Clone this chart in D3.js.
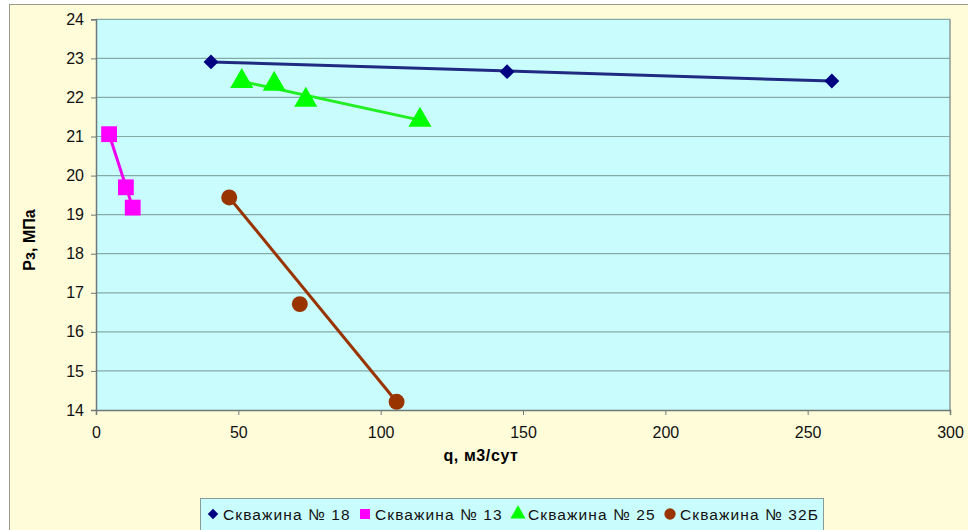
<!DOCTYPE html>
<html>
<head>
<meta charset="utf-8">
<script src="https://cdn.jsdelivr.net/npm/d3@7"></script>
<style>
  body { margin: 0; background: #fff; }
  svg text { font-family: "Liberation Sans", Arial, sans-serif; }
</style>
</head>
<body>
<script>
// well data: rate q (m3/day) and pressure Pz (MPa)
const seriesNames = ["Скважина № 18", "Скважина № 13", "Скважина № 25", "Скважина № 32Б"];
const q18 = [40.4, 144.4, 258.5];
const p18 = [22.91, 22.66, 22.42];
const q13 = [4.6, 10.5, 12.9];
const p13 = [21.06, 19.70, 19.18];
const q25 = [51.2, 62.6, 73.7, 113.8];
const p25 = [22.41, 22.34, 21.93, 21.42];
const q32 = [46.8, 71.6, 105.6];
const p32 = [19.44, 16.71, 14.21];
const xTicks = [0, 50, 100, 150, 200, 250, 300];
const yTicks = [14, 15, 16, 17, 18, 19, 20, 21, 22, 23, 24];

const colors = ["#000080", "#ff00ff", "#00ff00", "#993300"];
const lineColors = ["#1f2a80", "#ee00ee", "#22ee22", "#993300"];
const symbols = [d3.symbolSquare, d3.symbolSquare, d3.symbolTriangle, d3.symbolCircle];
const symRot = [45, 0, 0, 0];
const symSizes = [110, 250, 230, 200];

const data = [
  q18.map((q, i) => ({ q, p: p18[i] })),
  q13.map((q, i) => ({ q, p: p13[i] })),
  q25.map((q, i) => ({ q, p: p25[i] })),
  q32.map((q, i) => ({ q, p: p32[i] }))
];

const w = 968, h = 530;

const svg = d3.select("body").append("svg")
  .attr("width", w)
  .attr("height", h);

// chart background
svg.append("rect")
  .attr("x", 9.5).attr("y", 4.5)
  .attr("width", w).attr("height", h)
  .attr("fill", "#fffcd9")
  .attr("stroke", "#9a9a8a");

const x = d3.scaleLinear().domain([0, 300]).range([96, 950]);
const y = d3.scaleLinear().domain([14, 24]).range([410, 19.3]);

// plot area
svg.append("rect")
  .attr("x", x(0)).attr("y", y(24))
  .attr("width", x(300) - x(0)).attr("height", y(14) - y(24))
  .attr("fill", "#c9fdfd");

// grid
svg.selectAll(".grid")
  .data(yTicks.filter(d => d > 14))
  .enter().append("line")
  .attr("x1", x(0)).attr("x2", x(300))
  .attr("y1", d => y(d)).attr("y2", d => y(d))
  .attr("stroke", "#86aaa8")
  .attr("stroke-width", 1.2);

// right border of plot
svg.append("line")
  .attr("x1", x(300)).attr("x2", x(300))
  .attr("y1", y(24)).attr("y2", y(14))
  .attr("stroke", "#8c9a98").attr("stroke-width", 1.5);

// axes
const xAxis = svg.append("g")
  .attr("transform", `translate(0,${y(14)})`)
  .call(d3.axisBottom(x).tickValues(xTicks).tickSize(5).tickPadding(12));
const yAxis = svg.append("g")
  .attr("transform", `translate(${x(0)},0)`)
  .call(d3.axisLeft(y).tickValues(yTicks).tickSize(5).tickPadding(7));

[xAxis, yAxis].forEach(g => {
  g.select(".domain").attr("stroke", "#6e7a78").attr("stroke-width", 1.5);
  g.selectAll(".tick line").attr("stroke", "#6e7a78");
  g.selectAll("text").attr("font-size", 16).attr("fill", "#111")
    .attr("font-family", "'Liberation Sans', Arial, sans-serif");
});

// axis titles
svg.append("text")
  .attr("x", 481).attr("y", 461)
  .attr("text-anchor", "middle")
  .attr("font-size", 16).attr("font-weight", "bold")
  .attr("letter-spacing", 0.6)
  .text("q, м3/сут");

svg.append("text")
  .attr("transform", "translate(35,240) rotate(-90)")
  .attr("text-anchor", "middle")
  .attr("font-size", 16).attr("font-weight", "bold")
  .text("Рз, МПа");

// lines from first to last measurement
data.forEach((s, i) => {
  const ends = [s[0], s[s.length - 1]];
  svg.append("path")
    .datum(ends)
    .attr("fill", "none")
    .attr("stroke", lineColors[i])
    .attr("stroke-width", 3)
    .attr("d", d3.line().x(d => x(d.q)).y(d => y(d.p)));
});

// markers
data.forEach((s, i) => {
  svg.selectAll(".m" + i)
    .data(s).enter()
    .append("path")
    .attr("transform", d => `translate(${x(d.q)},${y(d.p)}) rotate(${symRot[i]})`)
    .attr("d", d3.symbol().type(symbols[i]).size(symSizes[i]))
    .attr("fill", colors[i]);
});

// legend
const legend = svg.append("g");
legend.append("rect")
  .attr("x", 200.5).attr("y", 498.5)
  .attr("width", 623).attr("height", 40)
  .attr("fill", "#c9fdfd")
  .attr("stroke", "#8a9896");

const legX = [213, 365, 518, 670];
seriesNames.forEach((name, i) => {
  legend.append("path")
    .attr("transform", `translate(${legX[i]},${514}) rotate(${symRot[i]})`)
    .attr("d", d3.symbol().type(symbols[i]).size([55, 100, 100, 100][i]))
    .attr("fill", colors[i]);
  legend.append("text")
    .attr("x", legX[i] + 10).attr("y", 520)
    .attr("font-size", 15.5)
    .attr("letter-spacing", 1.1)
    .attr("fill", "#111")
    .text(name);
});
</script>
</body>
</html>
